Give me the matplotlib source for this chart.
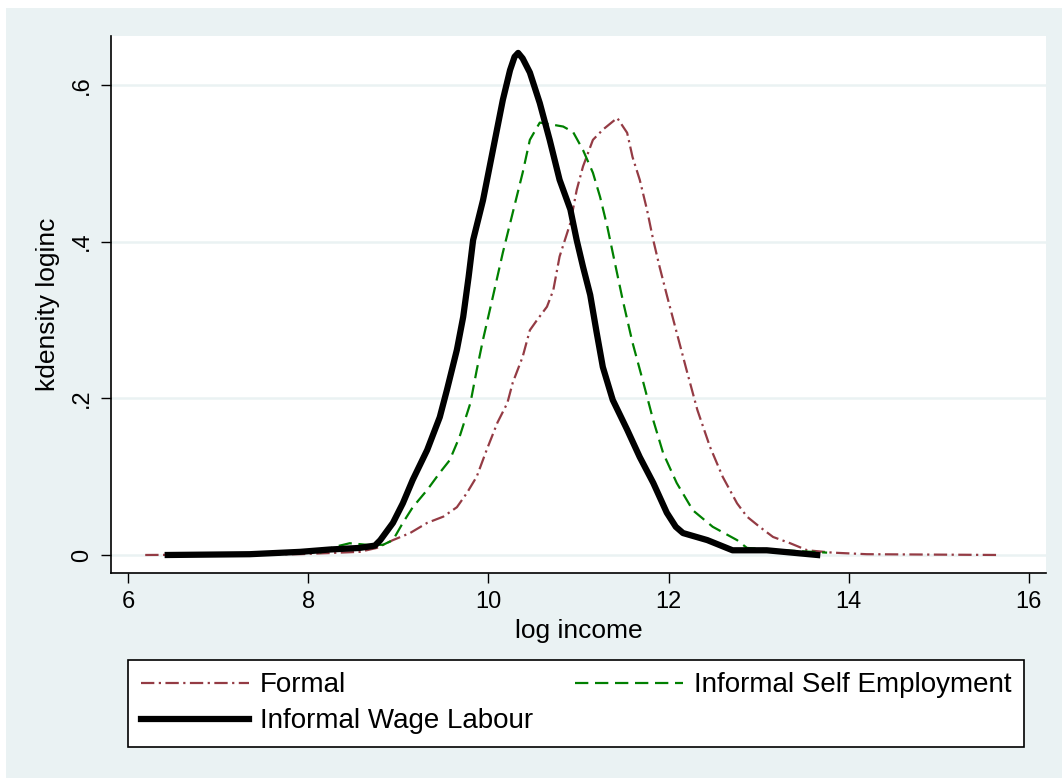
import matplotlib.pyplot as plt
from matplotlib.patches import Rectangle

# kernel density estimates
formal_x = [6.19, 7.91, 8.35, 8.57, 8.76, 8.94, 9.13, 9.32, 9.50, 9.65, 9.76, 9.87, 9.98,
            10.10, 10.21, 10.27, 10.38, 10.46, 10.54, 10.65, 10.72, 10.79, 10.91, 10.98,
            11.05, 11.16, 11.27, 11.43, 11.54, 11.60, 11.68, 11.76, 11.83, 11.90, 11.98,
            12.09, 12.20, 12.32, 12.46, 12.60, 12.76, 12.87, 13.01, 13.16, 13.35, 13.54,
            13.82, 14.20, 15.68]
formal_y = [0.0, 0.001, 0.003, 0.004, 0.009, 0.019, 0.028, 0.041, 0.049, 0.061, 0.079, 0.100,
            0.134, 0.169, 0.194, 0.220, 0.253, 0.287, 0.300, 0.317, 0.338, 0.381, 0.424,
            0.466, 0.496, 0.530, 0.543, 0.558, 0.539, 0.508, 0.479, 0.441, 0.402, 0.368,
            0.332, 0.284, 0.236, 0.185, 0.138, 0.100, 0.066, 0.049, 0.036, 0.023, 0.015,
            0.006, 0.003, 0.001, 0.0]

self_x = [8.13, 8.28, 8.46, 8.65, 8.83, 8.94, 9.05, 9.16, 9.32, 9.46, 9.57, 9.68, 9.80,
          9.87, 9.94, 10.05, 10.16, 10.27, 10.38, 10.46, 10.57, 10.68, 10.83, 10.94, 11.05,
          11.16, 11.24, 11.32, 11.38, 11.49, 11.60, 11.72, 11.83, 11.94, 12.09, 12.27,
          12.49, 12.76, 12.87, 13.27, 13.76]
self_y = [0.003, 0.010, 0.015, 0.013, 0.013, 0.019, 0.041, 0.061, 0.083, 0.105, 0.121,
          0.151, 0.194, 0.236, 0.275, 0.330, 0.386, 0.437, 0.488, 0.530, 0.552, 0.550,
          0.547, 0.540, 0.517, 0.488, 0.457, 0.419, 0.386, 0.326, 0.271, 0.220, 0.172,
          0.130, 0.092, 0.057, 0.036, 0.019, 0.009, 0.006, 0.003]

wage_x = [6.44, 7.35, 7.91, 8.24, 8.57, 8.74, 8.80, 8.94, 9.05, 9.16, 9.32, 9.46, 9.54,
          9.65, 9.72, 9.78, 9.83, 9.94, 10.05, 10.16, 10.24, 10.29, 10.33, 10.38, 10.46,
          10.57, 10.68, 10.79, 10.91, 10.98, 11.05, 11.13, 11.20, 11.27, 11.38, 11.54,
          11.68, 11.83, 11.98, 12.08, 12.16, 12.43, 12.71, 13.09, 13.65]
wage_y = [0.0, 0.001, 0.004, 0.007, 0.009, 0.012, 0.019, 0.041, 0.066, 0.096, 0.134, 0.176,
          0.211, 0.262, 0.304, 0.355, 0.402, 0.453, 0.517, 0.581, 0.619, 0.636, 0.641,
          0.634, 0.616, 0.577, 0.530, 0.479, 0.441, 0.402, 0.368, 0.332, 0.285, 0.240,
          0.198, 0.160, 0.125, 0.092, 0.054, 0.036, 0.028, 0.019, 0.006, 0.006, 0.0]

xticks = [6, 8, 10, 12, 14, 16]
yticks = [0, 0.2, 0.4, 0.6]
ytick_labels = ["0", ".2", ".4", ".6"]

plt.rcParams['font.family'] = ['Liberation Sans', 'DejaVu Sans']

bg = "#eaf2f3"
fig = plt.figure(figsize=(10.62, 7.78), dpi=100)
fig.patch.set_facecolor("white")
fig.patches.append(Rectangle((6 / 1062, 0), 1, 1 - 8 / 778, transform=fig.transFigure,
                             facecolor=bg, edgecolor="none", zorder=-10))

ax = fig.add_axes([111 / 1062, 1 - 573 / 778, 935 / 1062, 537 / 778])
ax.set_facecolor("white")

l1, = ax.plot(formal_x, formal_y, color="#943b44", lw=1.6, linestyle=(0, (6, 2, 1, 2)),
              label="Formal")
l2, = ax.plot(self_x, self_y, color="#008000", lw=1.6, linestyle=(0, (6, 3)),
              label="Informal Self Employment")
l3, = ax.plot(wage_x, wage_y, color="black", lw=4.5, label="Informal Wage Labour",
              solid_joinstyle="round")

ax.set_xlim(5.81, 16.19)
ax.set_ylim(-0.023, 0.6626)
ax.set_xticks(xticks)
ax.set_yticks(yticks)
ax.set_yticklabels(ytick_labels, rotation=90, va="center")
ax.tick_params(axis="both", labelsize=17, length=7, width=1, direction="out", pad=6)
ax.yaxis.grid(True, color=bg, lw=1.8)
ax.set_axisbelow(True)

for s in ["top", "right"]:
    ax.spines[s].set_visible(False)
for s in ["left", "bottom"]:
    ax.spines[s].set_linewidth(1.2)

ax.set_xlabel("log income", fontsize=19, labelpad=4)
ax.set_ylabel("kdensity loginc", fontsize=19, labelpad=8)

# column-major fill: Formal / Wage in column 1, Self Employment in column 2
leg = fig.legend([l1, l3, l2], [l1.get_label(), l3.get_label(), l2.get_label()],
                 loc="upper left", ncol=2, mode="expand",
                 bbox_to_anchor=(128 / 1062, 1 - 660 / 778, 896 / 1062, 0),
                 fontsize=20, handlelength=3.9, handletextpad=0.4, frameon=True,
                 fancybox=False, edgecolor="black", framealpha=1, facecolor="white",
                 borderpad=0.45, borderaxespad=0, labelspacing=0.35)
leg.get_frame().set_linewidth(1.2)

fig.savefig("out.png", dpi=100, facecolor=fig.get_facecolor())
